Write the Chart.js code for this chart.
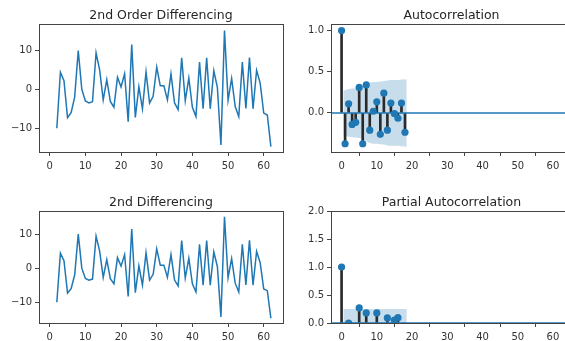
<!DOCTYPE html>
<html>
<head>
<meta charset="utf-8">
<script src="https://cdn.jsdelivr.net/npm/chart.js@4.4.0/dist/chart.umd.min.js"></script>
<style>
    html, body { margin: 0; padding: 0; background: #fff; overflow: hidden; width: 565px; height: 341px; }
    canvas { position: absolute; }
</style>
</head>
<body>
<canvas id="c1" width="290" height="172" style="left:0;top:0"></canvas>
<canvas id="c2" width="290" height="172" style="left:292px;top:0"></canvas>
<canvas id="c3" width="290" height="156" style="left:0;top:187px"></canvas>
<canvas id="c4" width="290" height="156" style="left:292px;top:187px"></canvas>
<script>
// 2nd differenced series, index starts at 2
const diffStart = 2;
const diffValues = [-10, 4.4, 2.2, -7.3, -6, -2, 10, 0, -3, -3.5, -3.2, 9.4, 5, -2.7, 2.5, -3.1, -4.6, 3.1, 0.6, 4,
    -8.3, 11.5, -7.2, 0.7, -5, 4.5, -3.5, -1.8, 5.7, 0.9, 0.9, -2.7, 4, -3.5, -5.2, 8.1, -2.9, 2.9, -4.6, -7,
    7, -5, 8.1, -5, 4.8, 0.5, -14.3, 15.1, -2.8, 2.8, -4.4, -7, 7, -4.9, 8.2, -5, 4.9, 1.6, -6.1, -6.6, -14.7];

const lags = [0, 1, 2, 3, 4, 5, 6, 7, 8, 9, 10, 11, 12, 13, 14, 15, 16, 17, 18];
const acfValues = [1.0, -0.375, 0.11, -0.14, -0.115, 0.31, -0.375, 0.34, -0.21, 0.02, 0.135, -0.26, 0.24, -0.21, 0.12, -0.01, -0.065, 0.12, -0.235];
// confidence half-width for lags 1..18
const acfBand = [0.27, 0.29, 0.295, 0.30, 0.305, 0.32, 0.345, 0.365, 0.375, 0.375, 0.38, 0.385, 0.395, 0.40, 0.40, 0.40, 0.405, 0.41];
// negative values are hidden below the axis in the picture
const pacfValues = [1.0, null, 0.0, null, null, 0.27, null, 0.18, null, null, 0.18, null, null, 0.09, null, 0.05, 0.095, null, null];
const pacfBand = [0.25, 0.25, 0.25, 0.25, 0.25, 0.25, 0.25, 0.25, 0.25, 0.25, 0.25, 0.25, 0.25, 0.25, 0.25, 0.25, 0.25, 0.25];

const xTicks = [0, 10, 20, 30, 40, 50, 60];
const diffTicks = [-10, 0, 10];
const acfTicks = [0, 0.5, 1.0];
const pacfTicks = [0, 0.5, 1.0, 1.5, 2.0];

const X_MIN = -3, X_MAX = 65.4;
const BLUE = '#1f77b4';
const FONT = 'DejaVu Sans';

const framePlugin = {
    id: 'frame',
    afterDraw(chart) {
        const a = chart.chartArea;
        const ctx = chart.ctx;
        ctx.save();
        ctx.strokeStyle = '#444';
        ctx.lineWidth = 1;
        ctx.strokeRect(Math.round(a.left) + 0.5, Math.round(a.top) + 0.5,
            Math.round(a.right - a.left), Math.round(a.bottom - a.top));
        ctx.restore();
    }
};

// matplotlib style minus sign
function num(v) {
    return String(v).replace('-', '\u2212');
}

function axis(min, max, ticks, fit, fmt, pad) {
    return {
        type: 'linear', min: min, max: max, offset: false,
        afterBuildTicks: function (s) { s.ticks = ticks.map(function (v) { return { value: v }; }); },
        afterFit: fit,
        grid: { drawOnChartArea: false, drawTicks: true, tickLength: 4, color: '#444' },
        border: { display: false },
        ticks: {
            font: { family: FONT, size: 10 }, color: '#333', padding: pad,
            maxRotation: 0, autoSkip: false,
            callback: fmt || num
        }
    };
}

function options(title, yMin, yMax, yTicks, yFmt, padRight) {
    return {
        responsive: false,
        animation: false,
        layout: { padding: { left: 0, right: padRight, top: 0, bottom: 0 } },
        plugins: {
            legend: { display: false },
            tooltip: { enabled: false },
            title: {
                display: true, text: title, fullSize: false, color: '#262626',
                font: { family: FONT, size: 12.5, weight: 'normal' },
                padding: { top: 8, bottom: 1 }
            }
        },
        scales: {
            x: axis(X_MIN, X_MAX, xTicks, function (s) { s.height = 20; }, null, 4),
            y: axis(yMin, yMax, yTicks, function (s) { s.width = 39; }, yFmt, 3)
        }
    };
}

function diffChart(id, title) {
    const pts = diffValues.map(function (v, i) { return { x: diffStart + i, y: v }; });
    new Chart(document.getElementById(id), {
        type: 'scatter',
        data: {
            datasets: [{
                data: pts, showLine: true, borderColor: BLUE, borderWidth: 1.5,
                pointRadius: 0, fill: false, tension: 0
            }]
        },
        options: options(title, -16.1, 16.8, diffTicks, null, 7),
        plugins: [framePlugin]
    });
}

function corrChart(id, title, values, band, yMin, yMax, yTicks) {
    const upper = [], lower = [];
    band.forEach(function (b, i) {
        let x = lags[i + 1];
        if (i === 0) x -= 0.5;
        if (i === band.length - 1) x += 0.5;
        upper.push({ x: x, y: b });
        lower.push({ x: x, y: -b });
    });
    const stems = [], marks = [];
    values.forEach(function (v, i) {
        if (v === null) return;
        stems.push({ x: lags[i], y: [0, v] });
        marks.push({ x: lags[i], y: v });
    });
    new Chart(document.getElementById(id), {
        type: 'bar',
        data: {
            datasets: [
                { type: 'line', data: upper, fill: '+1', backgroundColor: 'rgba(31,119,180,0.25)',
                  borderWidth: 0, pointRadius: 0, order: 5 },
                { type: 'line', data: lower, fill: false, borderWidth: 0, pointRadius: 0, order: 5 },
                { type: 'bar', data: stems, backgroundColor: '#2a2a2a', barThickness: 2, order: 3 },
                { type: 'line', data: [{ x: X_MIN, y: 0 }, { x: X_MAX, y: 0 }], borderColor: BLUE,
                  borderWidth: 1.5, pointRadius: 0, fill: false, order: 2 },
                { type: 'scatter', data: marks, backgroundColor: BLUE, borderWidth: 0, pointRadius: 3.6, order: 1 }
            ]
        },
        options: options(title, yMin, yMax, yTicks, function (v) { return num(v.toFixed(1)); }, 10),
        plugins: [framePlugin]
    });
}

diffChart('c1', '2nd Order Differencing');
corrChart('c2', 'Autocorrelation', acfValues, acfBand, -0.475, 1.08, acfTicks);
diffChart('c3', '2nd Differencing');
corrChart('c4', 'Partial Autocorrelation', pacfValues, pacfBand, 0, 2, pacfTicks);
</script>
</body>
</html>
